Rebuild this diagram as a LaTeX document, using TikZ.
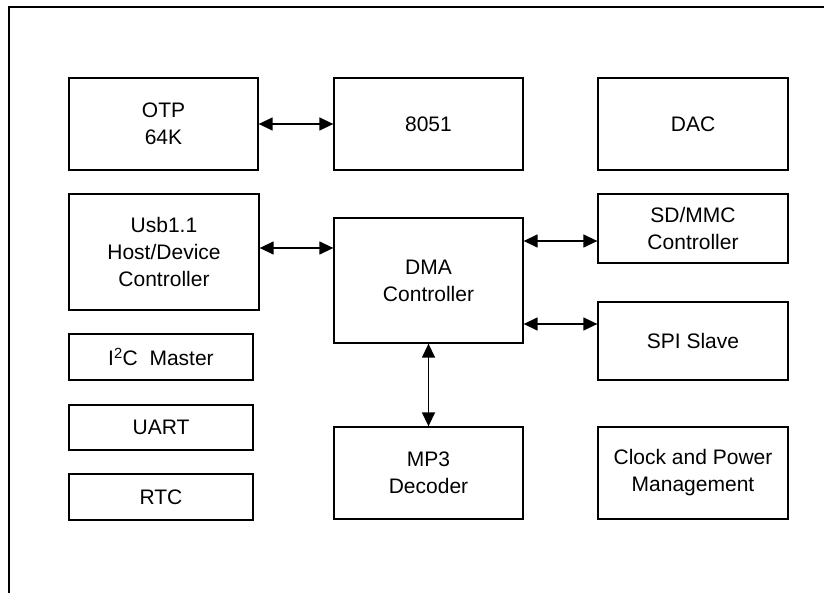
\documentclass[tikz,border=0pt]{standalone}
\usepackage{fontspec}
\setmainfont{Liberation Sans}
\usetikzlibrary{arrows.meta}
\begin{document}
\begin{tikzpicture}[x=1pt,y=-1pt,
  blk/.style={draw=black, line width=1.3pt, rectangle, align=center, inner sep=0pt,
    font=\fontsize{21}{27}\selectfont},
  link/.style={line width=1.4pt, {Triangle[length=14pt,width=13pt]}-{Triangle[length=14pt,width=13pt]}}
]
\useasboundingbox (0,0) rectangle (824,593);
% outer frame (extends past the page)
\draw[line width=2.5pt] (9,620) -- (9,7) -- (850,7);

% top row
\node[blk, minimum width=189pt, minimum height=92pt] (otp) at (163.5,124) {OTP\\64K};
\node[blk, minimum width=189pt, minimum height=92pt] (cpu) at (428.5,124) {8051};
\node[blk, minimum width=190pt, minimum height=92pt] (dac) at (693,124) {DAC};

% middle
\node[blk, minimum width=190pt, minimum height=116pt] (usb) at (164,252) {Usb1.1\\Host/Device\\Controller};
\node[blk, minimum width=189pt, minimum height=125pt] (dma) at (428.5,280.5) {DMA\\Controller};
\node[blk, minimum width=190pt, minimum height=69pt] (sd) at (693,228.5) {SD/MMC\\Controller};
\node[blk, minimum width=190pt, minimum height=78pt] (spi) at (693,341) {SPI Slave};

% small left column
\node[blk, minimum width=184pt, minimum height=46pt] (i2c) at (161,357) {I\textsuperscript{2}C\ \ Master};
\node[blk, minimum width=184pt, minimum height=45pt] (uart) at (161,427.5) {UART};
\node[blk, minimum width=184pt, minimum height=46pt] (rtc) at (161,497) {RTC};

% bottom row
\node[blk, minimum width=189pt, minimum height=92pt] (mp3) at (428.5,473) {MP3\\Decoder};
\node[blk, minimum width=190pt, minimum height=92pt] (clk) at (693,473) {Clock and Power\\Management};

% bus connections
\draw[link] (otp.east) -- (cpu.west);
\draw[link] ([yshift=4pt]usb.east) -- ([yshift=4pt]usb.east -| dma.west);
\draw[link] ([yshift=-12.5pt]sd.west -| dma.east) -- ([yshift=-12.5pt]sd.west);
\draw[link] ([yshift=17pt]spi.west -| dma.east) -- ([yshift=17pt]spi.west);
\draw[link] (dma.south) -- (mp3.north);
\end{tikzpicture}
\end{document}
